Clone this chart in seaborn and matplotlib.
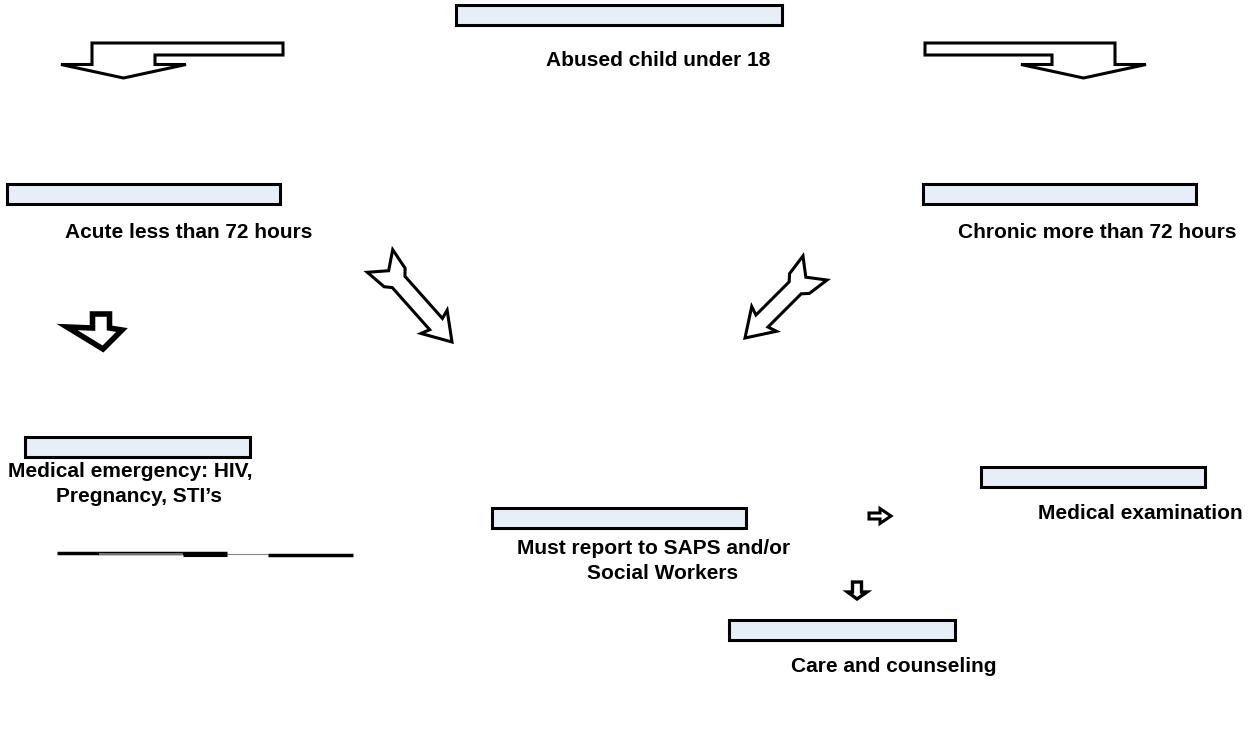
import numpy as np
import matplotlib
matplotlib.use("Agg")
import matplotlib.pyplot as plt
from matplotlib.patches import Polygon, Rectangle
import seaborn as sns

# --- content ---
labels = [
    "Abused child under 18",
    "Acute less than 72 hours",
    "Chronic more than 72 hours",
    "Medical emergency: HIV,\nPregnancy, STI\u2019s",
    "Must report to SAPS and/or\nSocial Workers",
    "Medical examination",
    "Care and counseling",
]

# --- layout (pixels, y down) ---
box_x = [456, 7, 923, 25, 492, 981, 729]
box_y = [5, 184, 184, 437, 508, 467, 620]
box_w = [326, 273, 273, 225, 254, 224, 226]
box_h = 20
text_x = [658, 189, 1097, 130, 654, 1140, 894]
text_y = [66, 238, 238, 477, 554, 519, 672]
line_gap = 25

BOX_FILL = "#e8eef8"

sns.set_theme(style="white")
plt.rcParams["font.family"] = ["Liberation Sans", "DejaVu Sans"]

fig = plt.figure(figsize=(12.5, 7.4), dpi=100)
ax = fig.add_axes([0, 0, 1, 1])
ax.set_xlim(0, 1250)
ax.set_ylim(740, 0)
ax.axis("off")


def outline(pts, lw=2.2):
    ax.add_patch(Polygon(pts, closed=True, facecolor="white",
                         edgecolor="black", lw=lw, joinstyle="miter"))


def fletched_arrow(tail, tip, sh=8.5, hh=17.5, hl=27, th=17, ft=14, fl=22, nd=13):
    tail = np.array(tail, float)
    tip = np.array(tip, float)
    L = np.linalg.norm(tip - tail)
    d = (tip - tail) / L
    n = np.array([-d[1], d[0]])
    local = [(L, 0), (L - hl, hh), (L - hl + 3, sh), (fl + 6, sh), (fl, ft),
             (0, th), (nd, 0), (0, -th), (fl, -ft), (fl + 6, -sh),
             (L - hl + 3, -sh), (L - hl, -hh)]
    return [tail + u * d + v * n for u, v in local]


def bent_arrow(x, y, side, bar_len=191, bar_th=12, stem_w=63, stem_h=21.5,
               over=31, head_len=13.5):
    s = side
    tip_x = x + s * stem_w / 2
    return [(x, y), (x + s * bar_len, y), (x + s * bar_len, y + bar_th),
            (x + s * stem_w, y + bar_th), (x + s * stem_w, y + stem_h),
            (x + s * (stem_w + over), y + stem_h), (tip_x, y + stem_h + head_len),
            (x - s * over, y + stem_h), (x, y + stem_h)]


def down_arrow(cx, top, stem_w, stem_h, wing_l, wing_r, head_len,
               tip_dx=0, wing_dy_l=0, wing_dy_r=0):
    return [(cx - stem_w / 2, top), (cx + stem_w / 2, top),
            (cx + stem_w / 2, top + stem_h),
            (cx + wing_r, top + stem_h + wing_dy_r),
            (cx + tip_dx, top + stem_h + head_len),
            (cx - wing_l, top + stem_h + wing_dy_l),
            (cx - stem_w / 2, top + stem_h)]


def right_arrow(x, cy, stem_len, stem_h, head_h, head_len):
    return [(x, cy - stem_h / 2), (x + stem_len, cy - stem_h / 2),
            (x + stem_len, cy - head_h / 2), (x + stem_len + head_len, cy),
            (x + stem_len, cy + head_h / 2), (x + stem_len, cy + stem_h / 2),
            (x, cy + stem_h / 2)]


# boxes and captions
for lab, bx, by, bw, tx, ty in zip(labels, box_x, box_y, box_w, text_x, text_y):
    ax.add_patch(Rectangle((bx, by), bw, box_h, facecolor=BOX_FILL,
                           edgecolor="black", lw=2.2))
    for i, line in enumerate(lab.split("\n")):
        dx = 9 * i if i else 0
        ax.text(tx + dx, ty + i * line_gap, line, ha="center", va="baseline",
                fontsize=15, fontweight="bold", color="black")

# big arrows
outline(bent_arrow(92, 43, +1))
outline(bent_arrow(1115, 43, -1, bar_len=190))
outline(fletched_arrow((380, 261), (452, 342)))
outline(fletched_arrow((815, 268), (745, 338)))

# small arrows
outline(down_arrow(101, 314, 17, 14, 34, 21, 21, tip_dx=2,
                   wing_dy_l=-1, wing_dy_r=2), lw=4)
outline(right_arrow(869, 516, 11, 6, 15, 11), lw=2.2)
outline(down_arrow(857, 582, 9, 10, 9.5, 10, 7), lw=2.4)

# flattened connector lower left
seg_x = [(57, 227), (99, 183), (183, 227), (227, 268), (268, 353)]
seg_y = [553, 554, 555, 553.5, 555]
seg_lw = [2.5, 1.2, 2.2, 0.8, 2.5]
seg_c = ["black", "#888888", "black", "#888888", "black"]
for (x0, x1), yy, lw, c in zip(seg_x, seg_y, seg_lw, seg_c):
    ax.plot([x0, x1], [yy, yy], color=c, lw=lw, solid_capstyle="butt")

fig.savefig("out.png", dpi=100, facecolor="white")
